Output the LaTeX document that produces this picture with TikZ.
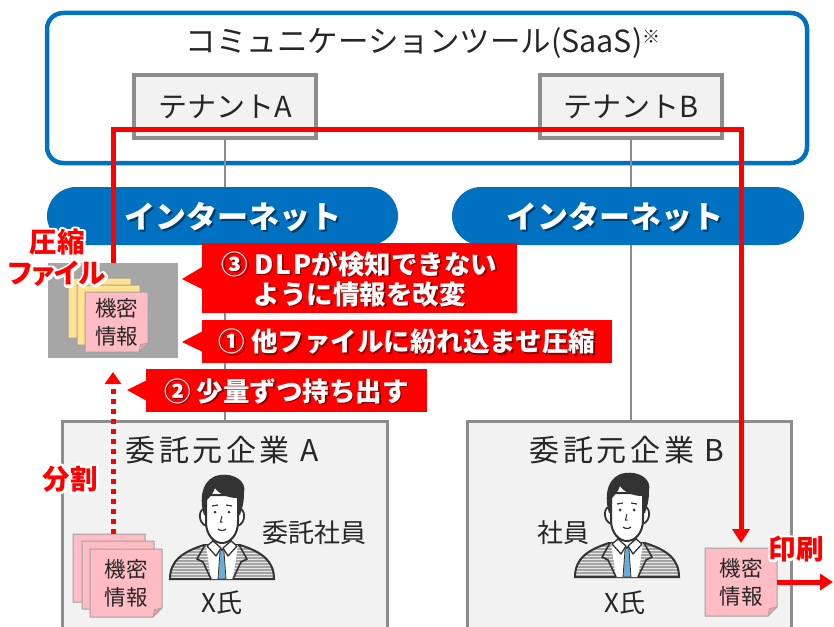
\documentclass[tikz,border=0pt]{standalone}
\usepackage{fontspec}
\setmainfont{Noto Sans CJK JP}
\newfontfamily\jpprop{Noto Sans CJK JP}[RawFeature=+palt]
\newfontfamily\jpwide{Noto Sans CJK JP}[LetterSpace=12]
\usetikzlibrary{arrows.meta,patterns}

\definecolor{saasblue}{HTML}{0070C0}
\definecolor{alertred}{HTML}{FF0000}
\definecolor{framegray}{HTML}{8C8C8C}
\definecolor{panelgray}{HTML}{F2F2F2}
\definecolor{inkgray}{HTML}{262626}
\definecolor{zipgray}{HTML}{A6A6A6}
\definecolor{notepink}{HTML}{FFBDC3}
\definecolor{notefold}{HTML}{E3A3AA}
\definecolor{noteyellow}{HTML}{FFE38F}
\definecolor{noteedge}{HTML}{A0A0A0}
\definecolor{tieblue}{HTML}{6AAED6}
\definecolor{jacketgray}{HTML}{A3A3A3}
\definecolor{hairdark}{HTML}{333333}

\tikzset{
  every node/.style={inner sep=0pt, outer sep=0pt},
  saasframe/.style={draw=saasblue, line width=4.5pt, rounded corners=16pt},
  titletext/.style={text=inkgray, font=\fontsize{30.5}{33}\selectfont},
  tenantbox/.style={draw=framegray, line width=3.5pt, fill=panelgray,
    minimum width=182pt, minimum height=63pt, text=inkgray,
    font=\fontsize{29}{32}\selectfont},
  companybox/.style={draw=framegray, line width=3pt, fill=panelgray,
    minimum height=222pt},
  companytitle/.style={text=inkgray, font=\jpwide\fontsize{30}{33}\selectfont},
  bodytext/.style={text=inkgray, font=\fontsize{26}{29}\selectfont},
  link/.style={draw=framegray, line width=2.5pt},
  netpill/.style={fill=saasblue, rounded corners=29pt, minimum height=58pt},
  nettext/.style={text=white, font=\bfseries\fontsize{31}{34}\selectfont},
  calloutbox/.style={fill=alertred, minimum height=43pt},
  callouttext/.style={text=white, align=center, font=\bfseries\fontsize{26.5}{30}\selectfont},
  notetext/.style={text=inkgray, align=center, font=\fontsize{21.5}{28}\selectfont},
  redline/.style={draw=alertred, line width=5pt},
  dotline/.style={draw=alertred, line width=5pt, dash pattern=on 5pt off 5pt,
    -{Triangle[length=12pt,width=16pt]}},
  redlabel/.style={align=center, font=\jpprop\bfseries\fontsize{27.5}{31}\selectfont},
  person/.pic={
    % jacket
    \path[preaction={fill=jacketgray}, pattern=horizontal lines,
          pattern color=white!75!jacketgray, draw=hairdark, line width=2pt]
      (-52,104) .. controls (-52,86) and (-40,77) .. (-18,70) -- (18,70)
      .. controls (40,77) and (52,86) .. (52,104) -- cycle;
    % shirt
    \path[fill=white] (-16,70) -- (16,70) -- (11,104) -- (-11,104) -- cycle;
    % lapels
    \draw[hairdark, line width=1.6pt, line join=round]
      (-17,70) -- (-25,84) -- (-19,87) -- (-11,104);
    \draw[hairdark, line width=1.6pt, line join=round]
      (17,70) -- (25,84) -- (19,87) -- (11,104);
    % tie
    \path[fill=tieblue, draw=hairdark, line width=0.8pt]
      (-3,72) -- (3,72) -- (2,77) -- (4,104) -- (-4,104) -- (-2,77) -- cycle;
    % neck
    \path[fill=white, draw=hairdark, line width=1.6pt]
      (-9,56) -- (-9,69) -- (0,75) -- (9,69) -- (9,56);
    % collar
    \path[fill=white, draw=hairdark, line width=1.3pt, line join=round]
      (-9,66) -- (-15,71) -- (-6,81) -- (-1,73) -- cycle;
    \path[fill=white, draw=hairdark, line width=1.3pt, line join=round]
      (9,66) -- (15,71) -- (6,81) -- (1,73) -- cycle;
    % ears
    \path[fill=white, draw=hairdark, line width=1.8pt]
      (-15,34) .. controls (-24,31) and (-25,49) .. (-15,51);
    \path[fill=white, draw=hairdark, line width=1.8pt]
      (15,34) .. controls (24,31) and (25,49) .. (15,51);
    % face
    \path[fill=white, draw=hairdark, line width=2pt]
      (-16,20) -- (-16,47) .. controls (-16,60) and (-8,68) .. (0,68)
      .. controls (8,68) and (16,60) .. (16,47) -- (16,20) -- cycle;
    % hair
    \fill[hairdark]
      (-18,40) .. controls (-24,20) and (-18,2) .. (-2,0)
      .. controls (12,-2) and (25,6) .. (22,18)
      .. controls (22,28) and (20,34) .. (18,40) -- (16,40) -- (15,23)
      .. controls (6,23) and (-3,19) .. (-7,13)
      .. controls (-9,19) and (-13,23) .. (-15,25) -- (-16,40) -- cycle;
    % features
    \draw[hairdark, line width=1.2pt] (-10,31) -- (-4,30);
    \draw[hairdark, line width=1.2pt] (4,30) -- (10,31);
    \fill[hairdark] (-7,37) circle (1.5);
    \fill[hairdark] (7,37) circle (1.5);
    \draw[hairdark, line width=1pt] (0,41) -- (-1.5,47) -- (0.5,47);
    \draw[hairdark, line width=1.2pt] (-4,54) .. controls (-2,56) and (2,56) .. (4,54);
  }
}

% sticky note: name, left, top, width, height, fill colour, text
\newcommand{\sticky}[7]{%
  \path[fill=#6, draw=noteedge, line width=1pt]
    (#2,#3) -- (#2+#4,#3) -- (#2+#4,#3+#5-9) -- (#2+#4-9,#3+#5) -- (#2,#3+#5) -- cycle;
  \path[fill=notefold, draw=noteedge, line width=0.6pt]
    (#2+#4,#3+#5-9) -- (#2+#4-9,#3+#5) -- (#2+#4-7.5,#3+#5-7.5) -- cycle;
  \node[notetext, minimum width=#4pt, minimum height=#5pt] (#1) at (#2+#4/2,#3+#5/2) {#7};}

% white text with a soft drop shadow: name, position, style, text
\newcommand{\shadowtext}[4]{%
  \node[#3, text=black, opacity=0.45, xshift=1.5pt, yshift=-1.5pt] at (#2) {#4};
  \node[#3] (#1) at (#2) {#4};}

% glyphs stroked with a wide white outline, used under the red labels
\newcommand{\outlined}[1]{\special{pdf:literal direct q 1 1 1 RG 5 w 1 j 2 Tr}#1\special{pdf:literal direct 0 Tr Q}}

% red text with a white halo: name, position, text
\newcommand{\halotext}[3]{%
  \node[redlabel, text=white] at (#2) {\outlined{#3}};
  \node[redlabel, text=alertred] (#1) at (#2) {#3};}

\begin{document}
\begin{tikzpicture}[x=1pt,y=-1pt]
\useasboundingbox (0,0) rectangle (834,626);
\fill[white] (0,0) rectangle (834,626);

% cloud service frame and tenants
\node[saasframe, minimum width=760pt, minimum height=150pt] (saas) at (427,88) {};
\node[titletext] (title) at (423,43)
  {コミュニケーションツール(SaaS)\raisebox{9pt}{\fontsize{18}{18}\selectfont ※}};
\node[tenantbox] (tA) at (225,106.5) {テナントA};
\node[tenantbox] (tB) at (631,106.5) {テナントB};

% client companies
\node[companybox, minimum width=325pt, anchor=north] (cA) at (224.5,421) {};
\node[companybox, minimum width=324pt, anchor=north] (cB) at (629,421) {};

% tenant to company links
\draw[link] (tA.south) -- (tA.south |- cA.north);
\draw[link] (tB.south) -- (tB.south |- cB.north);

% internet
\node[netpill, minimum width=351pt] (netA) at (222.5,216) {};
\node[netpill, minimum width=352pt] (netB) at (628,216) {};
\shadowtext{netAtext}{233,217}{nettext}{インターネット}
\shadowtext{netBtext}{615,217}{nettext}{インターネット}

% compressed archive
\node[fill=zipgray, minimum width=130pt, minimum height=95pt] (zip) at (113,310.5) {};
\sticky{zipY1}{68}{278}{63}{60}{noteyellow}{}
\sticky{zipY2}{77}{285}{63}{60}{noteyellow}{}
\sticky{zipP}{85}{292}{63}{60}{notepink}{機密\\情報}

% company B document
\sticky{noteB}{705}{548}{72}{68}{notepink}{機密\\情報}

% leak route through tenant A to tenant B
\coordinate (turnA) at (113,129);
\coordinate (turnB) at (741,129);
\draw[redline, line join=miter, -{Triangle[length=14pt,width=17pt]}, shorten >=5pt]
  (zip.north) -- (turnA) -- (turnB) -- (noteB.north);

% step callouts
\node[calloutbox, minimum width=315pt, minimum height=70pt] (c3) at (359.5,278) {};
\coordinate (c3tip) at (182,279);
\fill[alertred] ([yshift=11pt]c3.west) -- (c3tip) -- ([yshift=-11pt]c3.west) -- cycle;
\shadowtext{c3text}{359.5,279}{callouttext}{③ D\kern2pt L\kern2pt Pが検知できない\\ように情報を改変}

\node[calloutbox, minimum width=410pt] (c1) at (407,341.5) {};
\coordinate (c1tip) at (182,342);
\fill[alertred] ([yshift=10pt]c1.west) -- (c1tip) -- ([yshift=-10pt]c1.west) -- cycle;
\shadowtext{c1text}{407,342}{callouttext}{① 他ファイルに紛れ込ませ圧縮}

\node[calloutbox, minimum width=281pt] (c2) at (286.5,390.5) {};
\coordinate (c2tip) at (127,390);
\fill[alertred] ([yshift=10pt]c2.west) -- (c2tip) -- ([yshift=-10pt]c2.west) -- cycle;
\shadowtext{c2text}{286.5,391}{callouttext}{② 少量ずつ持ち出す}

% company A contents
\node[companytitle] (cAtitle) at (222,450) {委託元企業 A};
\pic (pA) at (222,475) {person};
\node[bodytext] (roleA) at (314,533) {委託社員};
\node[bodytext] (nameA) at (222,603) {X氏};
\sticky{stackA1}{73}{534}{72}{68}{notepink}{}
\sticky{stackA2}{82}{541}{72}{68}{notepink}{}
\sticky{stackA3}{90}{549}{72}{68}{notepink}{機密\\情報}

% company B contents
\node[companytitle] (cBtitle) at (627,450) {委託元企業 B};
\pic (pB) at (627,473) {person};
\node[bodytext] (roleB) at (563,533) {社員};
\node[bodytext] (nameB) at (625,603) {X氏};

% splitting and printing
\draw[dotline] (zip.south |- stackA1.north) -- ([yshift=-14pt]zip.south);
\coordinate (printEnd) at (833,582);
\draw[redline, -{Triangle[length=13pt,width=16pt]}] (noteB.east) -- (printEnd);

% red annotations
\halotext{zipLabel}{57,258}{圧縮\\ファイル}
\halotext{splitLabel}{70,479}{分割}
\halotext{printLabel}{796,549}{印刷}
\end{tikzpicture}
\end{document}
